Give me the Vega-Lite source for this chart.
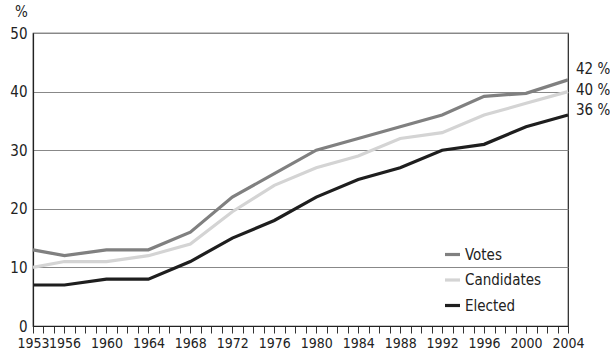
{
  "$schema": "https://vega.github.io/schema/vega-lite/v6.json",
  "width": 535,
  "height": 293,
  "autosize": {"type": "none"},
  "padding": {"left": 33, "top": 33, "right": 42, "bottom": 30},
  "background": "white",
  "config": {
    "font": "DejaVu Sans Condensed, Roboto Condensed, Roboto, sans-serif",
    "view": {"stroke": "#222", "strokeWidth": 1.2}
  },
  "data": {
    "values": [
      {"year": 1953, "series": "Votes", "value": 13},
      {"year": 1956, "series": "Votes", "value": 12},
      {"year": 1960, "series": "Votes", "value": 13},
      {"year": 1964, "series": "Votes", "value": 13},
      {"year": 1968, "series": "Votes", "value": 16},
      {"year": 1972, "series": "Votes", "value": 22},
      {"year": 1976, "series": "Votes", "value": 26},
      {"year": 1980, "series": "Votes", "value": 30},
      {"year": 1984, "series": "Votes", "value": 32},
      {"year": 1988, "series": "Votes", "value": 34},
      {"year": 1992, "series": "Votes", "value": 36},
      {"year": 1996, "series": "Votes", "value": 39.2},
      {"year": 2000, "series": "Votes", "value": 39.7},
      {"year": 2004, "series": "Votes", "value": 42},
      {"year": 1953, "series": "Candidates", "value": 10},
      {"year": 1956, "series": "Candidates", "value": 11},
      {"year": 1960, "series": "Candidates", "value": 11},
      {"year": 1964, "series": "Candidates", "value": 12},
      {"year": 1968, "series": "Candidates", "value": 14},
      {"year": 1972, "series": "Candidates", "value": 19.5},
      {"year": 1976, "series": "Candidates", "value": 24},
      {"year": 1980, "series": "Candidates", "value": 27},
      {"year": 1984, "series": "Candidates", "value": 29},
      {"year": 1988, "series": "Candidates", "value": 32},
      {"year": 1992, "series": "Candidates", "value": 33},
      {"year": 1996, "series": "Candidates", "value": 36},
      {"year": 2000, "series": "Candidates", "value": 38},
      {"year": 2004, "series": "Candidates", "value": 40},
      {"year": 1953, "series": "Elected", "value": 7},
      {"year": 1956, "series": "Elected", "value": 7},
      {"year": 1960, "series": "Elected", "value": 8},
      {"year": 1964, "series": "Elected", "value": 8},
      {"year": 1968, "series": "Elected", "value": 11},
      {"year": 1972, "series": "Elected", "value": 15},
      {"year": 1976, "series": "Elected", "value": 18},
      {"year": 1980, "series": "Elected", "value": 22},
      {"year": 1984, "series": "Elected", "value": 25},
      {"year": 1988, "series": "Elected", "value": 27},
      {"year": 1992, "series": "Elected", "value": 30},
      {"year": 1996, "series": "Elected", "value": 31},
      {"year": 2000, "series": "Elected", "value": 34},
      {"year": 2004, "series": "Elected", "value": 36}
    ]
  },
  "encoding": {
    "x": {
      "field": "year", "type": "quantitative",
      "scale": {"domain": [1953, 2004], "nice": false, "zero": false},
      "axis": {
        "title": null,
        "values": [1953,1954,1955,1956,1957,1958,1959,1960,1961,1962,1963,1964,1965,1966,1967,1968,1969,1970,1971,1972,1973,1974,1975,1976,1977,1978,1979,1980,1981,1982,1983,1984,1985,1986,1987,1988,1989,1990,1991,1992,1993,1994,1995,1996,1997,1998,1999,2000,2001,2002,2003,2004],
        "labelExpr": "indexof([1953,1956,1960,1964,1968,1972,1976,1980,1984,1988,1992,1996,2000,2004], datum.value) >= 0 ? '' + datum.value : ''",
        "labelOverlap": false,
        "labelFlush": false,
        "labelFontSize": 14,
        "labelColor": "#222",
        "labelPadding": 3,
        "tickColor": "#333",
        "tickSize": 7,
        "domainColor": "#222",
        "domainWidth": 1.2,
        "grid": false
      }
    },
    "y": {
      "field": "value", "type": "quantitative",
      "scale": {"domain": [0, 50], "nice": false},
      "axis": {
        "title": "%",
        "titleAngle": 0,
        "titleX": -12,
        "titleY": -14,
        "titleAlign": "center",
        "titleBaseline": "bottom",
        "titleFontSize": 15,
        "titleFontWeight": "normal",
        "titleColor": "#222",
        "values": [0, 10, 20, 30, 40, 50],
        "labelFontSize": 15,
        "labelColor": "#222",
        "labelPadding": 6,
        "ticks": false,
        "domainColor": "#222",
        "domainWidth": 1.2,
        "gridColor": "#888",
        "gridWidth": 1
      }
    }
  },
  "layer": [
    {
      "mark": {"type": "line", "strokeWidth": 3.2},
      "encoding": {
        "color": {
          "field": "series", "type": "nominal",
          "scale": {"domain": ["Votes", "Candidates", "Elected"], "range": ["#808080", "#d4d4d4", "#1e1e1e"]},
          "legend": {
            "title": null,
            "orient": "none",
            "legendX": 410,
            "legendY": 212,
            "symbolType": "stroke",
            "symbolSize": 225,
            "symbolStrokeWidth": 3.2,
            "labelFontSize": 15,
            "labelColor": "#222",
            "labelOffset": 3,
            "rowPadding": 7.5
          }
        }
      }
    },
    {
      "transform": [{"filter": "datum.year == 2004 && datum.series == 'Votes'"}],
      "mark": {"type": "text", "align": "left", "baseline": "middle", "dx": 8, "dy": -11, "fontSize": 15, "color": "#222"},
      "encoding": {"text": {"value": "42 %"}}
    },
    {
      "transform": [{"filter": "datum.year == 2004 && datum.series == 'Candidates'"}],
      "mark": {"type": "text", "align": "left", "baseline": "middle", "dx": 8, "dy": -2, "fontSize": 15, "color": "#222"},
      "encoding": {"text": {"value": "40 %"}}
    },
    {
      "transform": [{"filter": "datum.year == 2004 && datum.series == 'Elected'"}],
      "mark": {"type": "text", "align": "left", "baseline": "middle", "dx": 8, "dy": -5.5, "fontSize": 15, "color": "#222"},
      "encoding": {"text": {"value": "36 %"}}
    }
  ]
}
